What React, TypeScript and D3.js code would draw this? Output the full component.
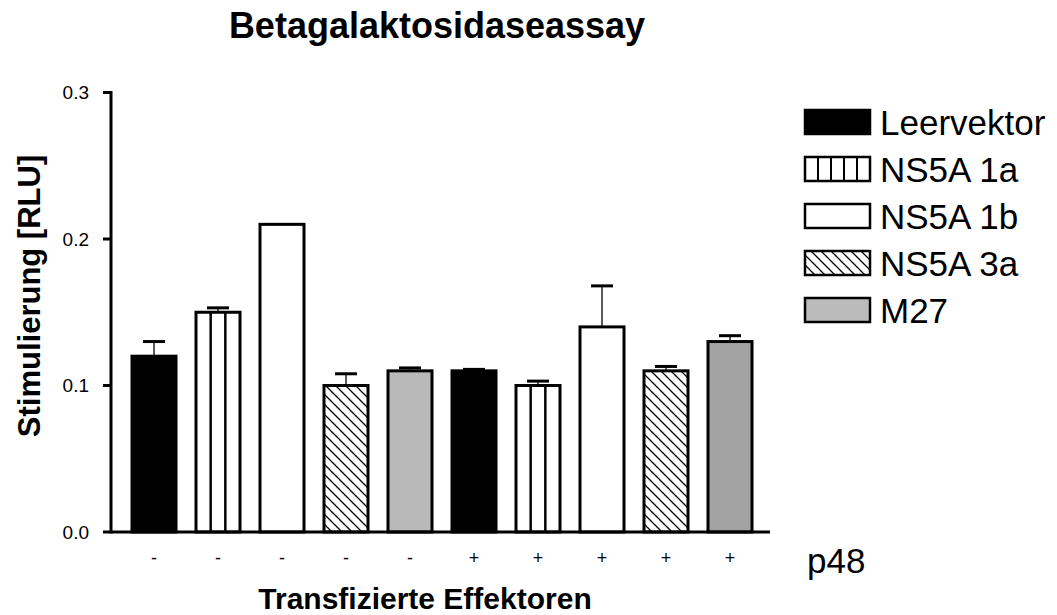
import React from "react";
import * as d3 from "d3";

const categories = ["-", "-", "-", "-", "-", "+", "+", "+", "+", "+"];
const effectors = ["Leervektor", "NS5A 1a", "NS5A 1b", "NS5A 3a", "M27", "Leervektor", "NS5A 1a", "NS5A 1b", "NS5A 3a", "M27"];
const values = [0.12, 0.15, 0.21, 0.1, 0.11, 0.11, 0.1, 0.14, 0.11, 0.13];
const errors = [0.01, 0.003, 0, 0.008, 0.002, 0.001, 0.003, 0.028, 0.003, 0.004];
const yTicks = [0.0, 0.1, 0.2, 0.3];
const legendItems = ["Leervektor", "NS5A 1a", "NS5A 1b", "NS5A 3a", "M27"];

const FONT = "'Liberation Sans', Arial, Helvetica, sans-serif";

const fillFor = (name: string, idx: number) => {
  switch (name) {
    case "Leervektor":
      return "#000";
    case "NS5A 3a":
      return "url(#hatch)";
    case "M27":
      return idx >= 5 ? "#a3a3a3" : "#b9b9b9";
    default:
      return "#fff";
  }
};

export default function App() {
  const width = 1057;
  const height = 615;
  const x0 = 111;
  const x1 = 770;
  const y = d3.scaleLinear().domain([0, 0.3]).range([532, 92.5]);
  const x = d3
    .scaleBand<number>()
    .domain(d3.range(values.length))
    .range([132, 752])
    .paddingInner(0.3125)
    .paddingOuter(0);
  const bw = x.bandwidth();

  return (
    <svg width={width} height={height} style={{ position: "absolute", left: 0, top: 0 }} fontFamily={FONT}>
      <defs>
        <pattern id="hatch" patternUnits="userSpaceOnUse" width={10} height={10}>
          <rect width={10} height={10} fill="#fff" />
          <path d="M-2,-2 L12,12 M-2,8 L2,12 M8,-2 L12,2" stroke="#000" strokeWidth={1.3} />
        </pattern>
      </defs>

      <text x={437} y={38} textAnchor="middle" fontSize={36} fontWeight="bold">
        Betagalaktosidaseassay
      </text>

      {/* bars */}
      {values.map((v, i) => {
        const bx = x(i)!;
        const by = y(v);
        const bh = y(0) - by;
        const name = effectors[i];
        const e = errors[i];
        const cx = bx + bw / 2;
        return (
          <g key={i}>
            {e > 0 && (
              <g>
                <line x1={cx} x2={cx} y1={by} y2={y(v + e)} stroke="#000" strokeWidth={1.3} />
                <line x1={cx - 11} x2={cx + 11} y1={y(v + e)} y2={y(v + e)} stroke="#000" strokeWidth={3} />
              </g>
            )}
            <rect x={bx} y={by} width={bw} height={bh} fill={fillFor(name, i)} stroke="#000" strokeWidth={3} />
            {name === "NS5A 1a" &&
              [1, 2].map((k) => (
                <line key={k} x1={bx + (bw * k) / 3} x2={bx + (bw * k) / 3} y1={by} y2={y(0)} stroke="#000" strokeWidth={2.5} />
              ))}
          </g>
        );
      })}

      {/* y axis */}
      <line x1={x0} x2={x0} y1={y(0.3) - 1.5} y2={y(0) + 1.5} stroke="#000" strokeWidth={3} />
      {yTicks.map((t) => (
        <g key={t}>
          <line x1={x0 - 8} x2={x0} y1={y(t)} y2={y(t)} stroke="#000" strokeWidth={3} />
          <text x={89} y={y(t)} dy="0.35em" textAnchor="end" fontSize={19}>
            {d3.format(".1f")(t)}
          </text>
        </g>
      ))}
      {/* x axis */}
      <line x1={x0} x2={x1} y1={y(0)} y2={y(0)} stroke="#000" strokeWidth={3} />
      {categories.map((c, i) => (
        <text key={i} x={x(i)! + bw / 2} y={564} textAnchor="middle" fontSize={18}>
          {c}
        </text>
      ))}
      <text x={807} y={573} fontSize={35}>
        p48
      </text>

      <text x={425} y={609} textAnchor="middle" fontSize={30} fontWeight="bold">
        Transfizierte Effektoren
      </text>
      <text
        transform={`translate(40, 296) rotate(-90)`}
        textAnchor="middle"
        fontSize={31}
        fontWeight="bold"
      >
        Stimulierung [RLU]
      </text>

      {/* legend */}
      {legendItems.map((name, i) => {
        const ly = 110 + i * 47;
        const lx = 805;
        const lw = 65;
        const lh = 24;
        return (
          <g key={name}>
            <rect x={lx} y={ly} width={lw} height={lh} fill={name === "M27" ? "#bbbbbb" : fillFor(name, 0)} stroke="#000" strokeWidth={2.5} />
            {name === "NS5A 1a" &&
              [1, 2, 3, 4].map((k) => (
                <line key={k} x1={lx + (lw * k) / 5} x2={lx + (lw * k) / 5} y1={ly} y2={ly + lh} stroke="#000" strokeWidth={2} />
              ))}
            <text x={880} y={ly + lh / 2} dy="0.36em" fontSize={35}>
              {name}
            </text>
          </g>
        );
      })}
    </svg>
  );
}
